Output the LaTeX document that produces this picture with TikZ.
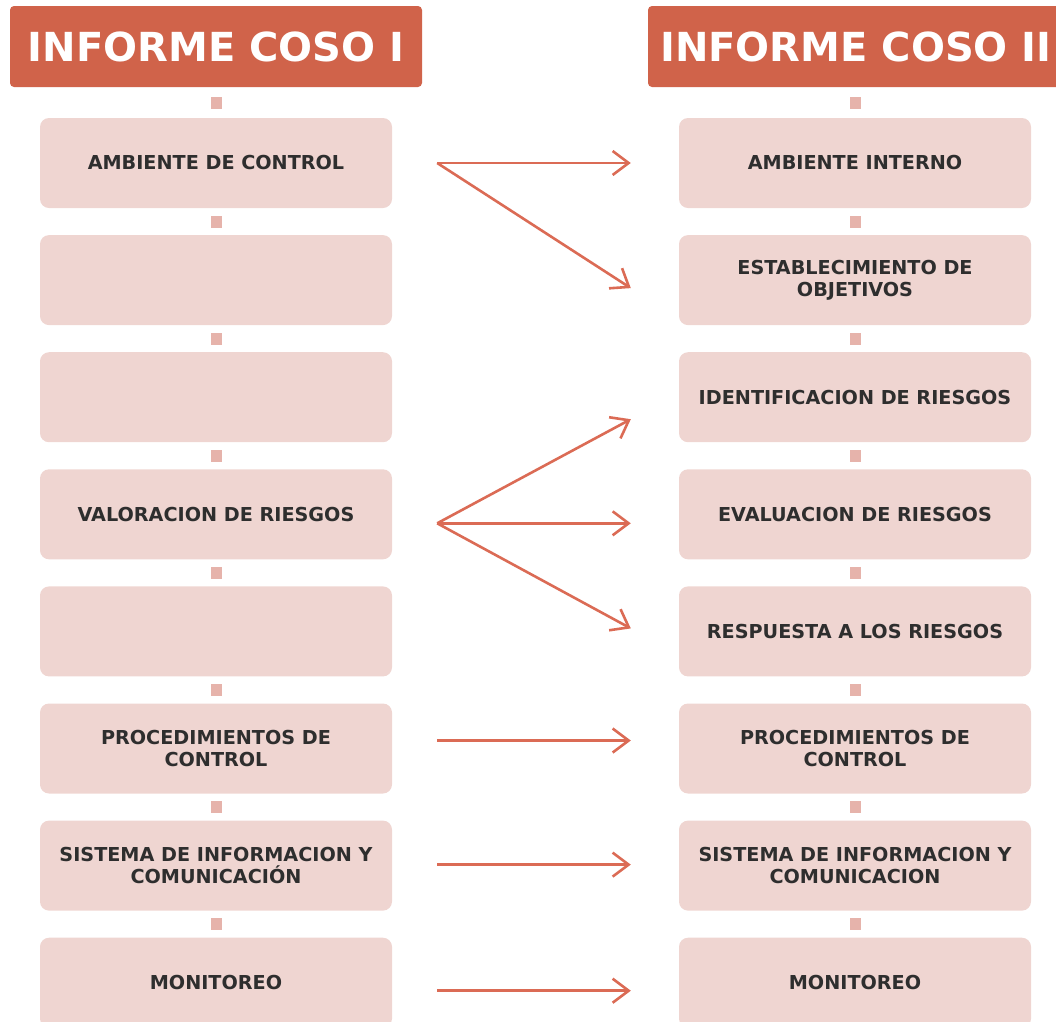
\documentclass[tikz,border=0pt]{standalone}
\usepackage{fontspec}
\setmainfont{DejaVu Sans}
\usetikzlibrary{positioning,calc,arrows.meta}
\definecolor{teja}{HTML}{D0634A}
\definecolor{rosa}{HTML}{EFD5D1}
\definecolor{rosaosc}{HTML}{E6B3AB}
\definecolor{flechacol}{HTML}{DB6B55}

\begin{document}
\begin{tikzpicture}[x=1pt, y=-1pt, node distance=26.7pt,
        encabezado/.style={fill=teja, rounded corners=4pt, minimum width=412pt,
            minimum height=81pt, text=white, font=\fontsize{40}{48}\selectfont\bfseries},
        caja/.style={fill=rosa, rounded corners=9pt, minimum width=352pt,
            minimum height=90pt, align=center, text=black!82,
            font=\fontsize{19.2}{22.5}\selectfont\bfseries},
        paso/.style={fill=rosaosc, minimum width=11pt, minimum height=12pt, inner sep=0pt},
        flecha/.style={flechacol, line width=2.6pt,
            -{Straight Barb[length=16pt, width=24pt]}}
    ]
        \useasboundingbox (0,0) rectangle (1056,1021);
        \clip (0,0) rectangle (1056,1021);

        % Encabezados
        \node[encabezado] (h1) at (216,46.5) {INFORME COSO I};
        \node[encabezado, minimum width=416pt] (h2) at (856,46.5) {INFORME COSO II};

        % Columna COSO I
        \node[caja] (l1) at (216,163) {AMBIENTE DE CONTROL};
        \node[caja, below=of l1] (l2) {};
        \node[caja, below=of l2] (l3) {};
        \node[caja, below=of l3] (l4) {VALORACION DE RIESGOS};
        \node[caja, below=of l4] (l5) {};
        \node[caja, below=of l5] (l6) {PROCEDIMIENTOS DE\\CONTROL};
        \node[caja, below=of l6] (l7) {SISTEMA DE INFORMACION Y\\COMUNICACIÓN};
        \node[caja, below=of l7] (l8) {MONITOREO};

        % Columna COSO II
        \node[caja] (r1) at (855,163) {AMBIENTE INTERNO};
        \node[caja, below=of r1] (r2) {ESTABLECIMIENTO DE\\OBJETIVOS};
        \node[caja, below=of r2] (r3) {IDENTIFICACION DE RIESGOS};
        \node[caja, below=of r3] (r4) {EVALUACION DE RIESGOS};
        \node[caja, below=of r4] (r5) {RESPUESTA A LOS RIESGOS};
        \node[caja, below=of r5] (r6) {PROCEDIMIENTOS DE\\CONTROL};
        \node[caja, below=of r6] (r7) {SISTEMA DE INFORMACION Y\\COMUNICACION};
        \node[caja, below=of r7] (r8) {MONITOREO};

        % Pasos entre cajas
        \path (h1) -- node[paso] {} (l1) -- node[paso] {} (l2) -- node[paso] {} (l3)
            -- node[paso] {} (l4) -- node[paso] {} (l5) -- node[paso] {} (l6)
            -- node[paso] {} (l7) -- node[paso] {} (l8);
        \path (h2) -- node[paso] {} (r1) -- node[paso] {} (r2) -- node[paso] {} (r3)
            -- node[paso] {} (r4) -- node[paso] {} (r5) -- node[paso] {} (r6)
            -- node[paso] {} (r7) -- node[paso] {} (r8);

        % Origen y destino de las flechas
        \coordinate (o1) at ($(l1.east)+(45,0)$);
        \coordinate (o4) at ($(l4.east)+(45,9)$);
        \coordinate (o6) at ($(l6.east)+(45,-8)$);
        \coordinate (o7) at ($(l7.east)+(45,-1)$);
        \coordinate (o8) at ($(l8.east)+(45,8)$);
        \coordinate (d1) at ($(r1.west)+(-48,0)$);
        \coordinate (d2) at ($(r2.west)+(-48,8)$);
        \coordinate (d3) at ($(r3.west)+(-48,22)$);
        \coordinate (d4) at ($(r4.west)+(-48,9)$);
        \coordinate (d5) at ($(r5.west)+(-48,-3)$);
        \coordinate (d6) at ($(r6.west)+(-48,-8)$);
        \coordinate (d7) at ($(r7.west)+(-48,-1)$);
        \coordinate (d8) at ($(r8.west)+(-48,8)$);

        \draw[flecha] (o1) -- (d1);
        \draw[flecha] (o1) -- (d2);
        \draw[flecha] (o4) -- (d3);
        \draw[flecha] (o4) -- (d4);
        \draw[flecha] (o4) -- (d5);
        \draw[flecha] (o6) -- (d6);
        \draw[flecha] (o7) -- (d7);
        \draw[flecha] (o8) -- (d8);
    \end{tikzpicture}
\end{document}
